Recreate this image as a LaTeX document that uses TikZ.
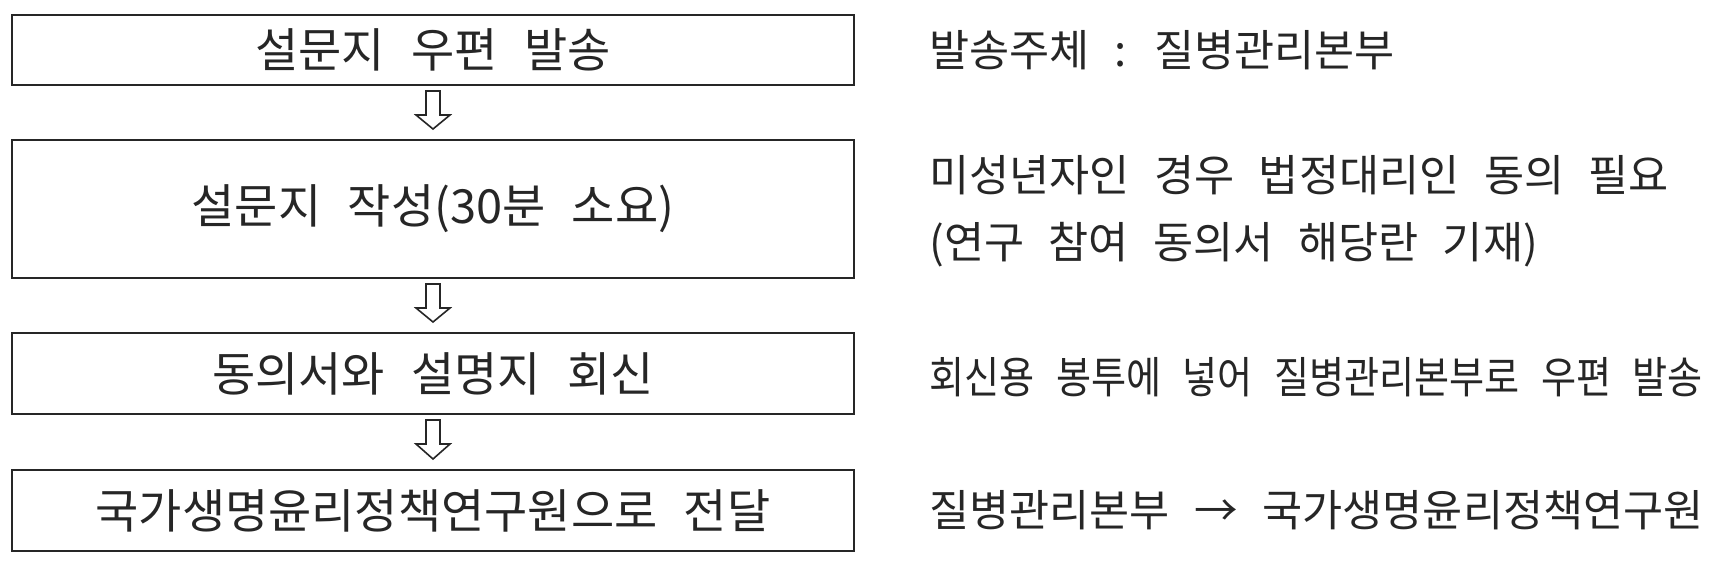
\documentclass[tikz,border=0pt]{standalone}
\usepackage{fontspec}
\setmainfont{Noto Sans CJK KR}[WordSpace=2.5]
\usepackage{tikz}
\usetikzlibrary{calc}

\newcommand\flowarrow[2]{%
  \draw[hollow] ($(#1.south)+(-7,5)$) -- ($(#1.south)+(7,5)$) -- ($(#1.south)+(7,29)$)
    -- ($(#1.south)+(17,29)$) -- ($(#2.north)+(0,-10)$) -- ($(#1.south)+(-17,29)$)
    -- ($(#1.south)+(-7,29)$) -- cycle;}

\begin{document}
\begin{tikzpicture}[x=0.5pt,y=-0.5pt,
    hollow/.style={draw=black!85,line width=0.8pt,fill=white,line join=miter}]
  \useasboundingbox (0,0) rectangle (1729,579);
  \begin{scope}[every node/.style={draw=black!85,line width=1pt,minimum width=421pt,
                inner sep=0pt,text=black!85,font=\fontsize{23.5pt}{28pt}\selectfont}]
    \node[minimum height=35pt] (b1) at (433,50) {설문지 우편 발송};
    \node[minimum height=69pt] (b2) at (433,209) {설문지 작성(30분 소요)};
    \node[minimum height=40.5pt] (b3) at (433,373.5) {동의서와 설명지 회신};
    \node[minimum height=40.5pt] (b4) at (433,510.5) {국가생명윤리정책연구원으로 전달};
  \end{scope}

  \begin{scope}[every node/.style={anchor=west,inner sep=0pt,align=left,text=black!85,
                font=\fontsize{21.8pt}{33.5pt}\selectfont}]
    \node (n1) at (929,50) {발송주체 : 질병관리본부};
    \node (n2) at (929,211) {미성년자인 경우 법정대리인 동의 필요\\(연구 참여 동의서 해당란 기재)};
    \node (n3) at (929,377) {\addfontfeatures{FakeStretch=0.875}회신용 봉투에 넣어 질병관리본부로 우편 발송};
    \node (n4) at (929,510) {질병관리본부 → 국가생명윤리정책연구원};
  \end{scope}

  \foreach \a/\b in {b1/b2,b2/b3,b3/b4}
    \flowarrow{\a}{\b};
\end{tikzpicture}
\end{document}
